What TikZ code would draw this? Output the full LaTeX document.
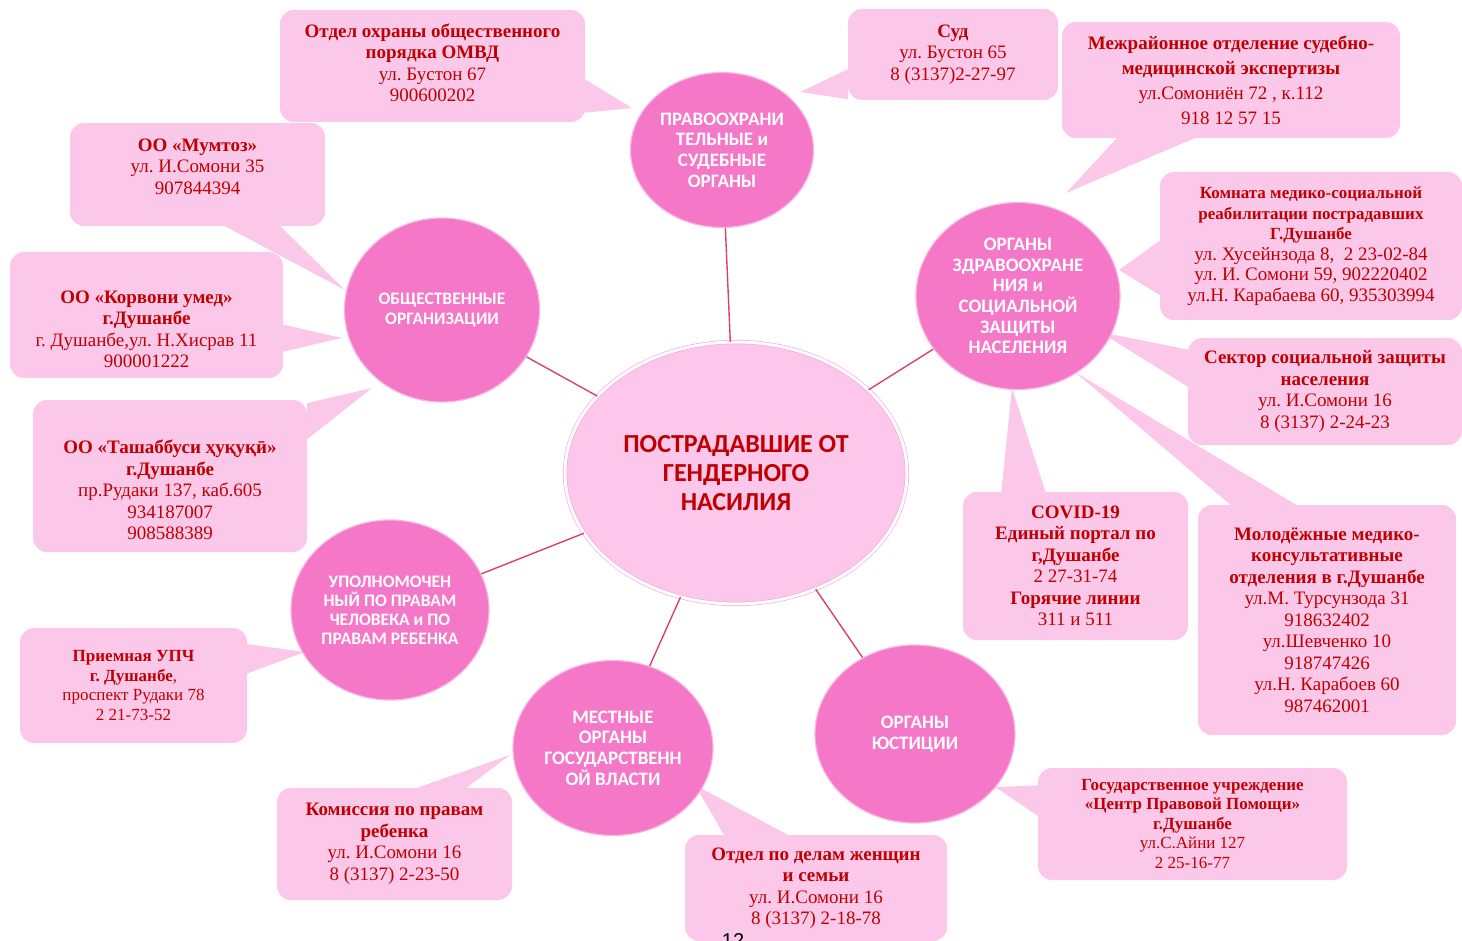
\documentclass[tikz,border=0pt]{standalone}
\usepackage{fontspec}
\setmainfont{Liberation Serif}
\newfontfamily\ballfont{Carlito}
\newfontfamily\pagefont{Liberation Sans}
\usepackage{tikz}
\usetikzlibrary{shapes.geometric, backgrounds}
\frenchspacing

\definecolor{boxpink}{HTML}{FCC8EA}
\definecolor{ballpink}{HTML}{F577C8}
\definecolor{ballrim}{HTML}{F9B6E2}
\definecolor{hubpink}{HTML}{FCC7EA}
\definecolor{hubrim}{HTML}{F2A6D6}
\definecolor{textred}{HTML}{C00000}
\definecolor{linkred}{HTML}{D9416F}

\tikzset{
    infotext/.style={text=textred, align=center, inner sep=2pt,
        font=\fontsize{19}{21.5}\selectfont},
    infobox/.style={infotext, fill=boxpink, rounded corners=14pt},
    smallbox/.style={infobox, font=\fontsize{17}{19.5}\selectfont},
    boxsize/.style 2 args={minimum width=#1pt, minimum height=#2pt},
    ball/.style={ellipse, fill=ballpink, draw=ballrim, line width=1.2pt, text=white,
        align=center, inner sep=0pt, font=\ballfont\bfseries\fontsize{19}{20.7}\selectfont},
    smallball/.style={ball, font=\ballfont\bfseries\fontsize{17.5}{19.3}\selectfont},
    hub/.style={ellipse, fill=hubpink, draw=hubrim, double=white, double distance=3pt,
        line width=0.6pt, text=textred, align=center, inner sep=0pt,
        font=\ballfont\bfseries\fontsize{26}{29}\selectfont},
    link/.style={draw=linkred, line width=1.4pt},
    tail/.style={fill=boxpink},
}
\newcommand\hd[1]{\textbf{#1}}
\newcommand\hds[1]{{\fontsize{17}{20.5}\selectfont\textbf{#1}}}

\begin{document}
\begin{tikzpicture}[x=1pt, y=-1pt]
    \clip (0,0) rectangle (1462,941);

    % centre and the six bodies
    \node[hub, boxsize={342}{262}] (victims) at (736,473)
        {ПОСТРАДАВШИЕ ОТ\\ГЕНДЕРНОГО\\НАСИЛИЯ};

    \node[ball, boxsize={183}{155}] (law) at (722,150)
        {ПРАВООХРАНИ\\ТЕЛЬНЫЕ и\\СУДЕБНЫЕ\\ОРГАНЫ};
    \node[ball, boxsize={204}{187}] (health) at (1018,296)
        {ОРГАНЫ\\ЗДРАВООХРАНЕ\\НИЯ и\\СОЦИАЛЬНОЙ\\ЗАЩИТЫ\\НАСЕЛЕНИЯ};
    \node[smallball, boxsize={195}{184}] (ngo) at (442,310)
        {ОБЩЕСТВЕННЫЕ\\ОРГАНИЗАЦИИ};
    \node[smallball, boxsize={198}{180}, font=\ballfont\bfseries\fontsize{17.5}{19}\selectfont] (ombuds) at (390,610)
        {УПОЛНОМОЧЕН\\НЫЙ ПО ПРАВАМ\\ЧЕЛОВЕКА и ПО\\ПРАВАМ РЕБЕНКА};
    \node[ball, boxsize={200}{175}] (local) at (613,748)
        {МЕСТНЫЕ\\ОРГАНЫ\\ГОСУДАРСТВЕНН\\ОЙ ВЛАСТИ};
    \node[ball, boxsize={200}{178}] (justice) at (915,734)
        {ОРГАНЫ\\ЮСТИЦИИ};

    % links from the centre
    \foreach \to in {law, health, ngo, ombuds, local, justice}
    {
        \draw[link] (victims) -- (\to);
    }

    % address boxes
    \node[infobox, boxsize={305}{112}] (ombd) at (432.5,66) {};
    \node[infotext] (ombd text) at (432.5,63)
        {\hd{Отдел охраны общественного}\\\hd{порядка ОМВД}\\ул. Бустон 67\\900600202};
    \node[infobox, boxsize={210}{91}] (sud) at (953,54.5)
        {\hd{Суд}\\ул. Бустон 65\\8 (3137)2-27-97};
    \node[infobox, boxsize={338}{116}, font=\fontsize{19}{25}\selectfont] (expert) at (1231,80)
        {\hd{Межрайонное отделение судебно-}\\\hd{медицинской экспертизы}\\ул.Сомониён 72 , к.112\\918 12 57 15};
    \node[infobox, boxsize={302}{148}, font=\fontsize{19}{20.5}\selectfont] (rehab) at (1311,246)
        {\hds{Комната медико-социальной}\\\hds{реабилитации пострадавших}\\\hds{Г.Душанбе}\\ул. Хусейнзода 8,\ \ 2 23-02-84\\ул. И. Сомони 59, 902220402\\ул.Н. Карабаева 60, 935303994};
    \node[infobox, boxsize={274}{107}] (social) at (1325,391.5)
        {\hd{Сектор социальной защиты}\\\hd{населения}\\ул. И.Сомони 16\\8 (3137) 2-24-23};
    \node[infobox, boxsize={225}{148}] (covid) at (1075.5,566)
        {\hd{COVID-19}\\\hd{Единый портал по}\\\hd{г,Душанбе}\\2 27-31-74\\\hd{Горячие линии}\\311 и 511};
    \node[infobox, boxsize={258}{230}] (youth) at (1327,620)
        {\hd{Молодёжные медико-}\\\hd{консультативные}\\\hd{отделения в г.Душанбе}\\ул.М. Турсунзода 31\\918632402\\ул.Шевченко 10\\918747426\\ул.Н. Карабоев 60\\987462001};
    \node[smallbox, boxsize={309}{112}] (legal) at (1192.5,824)
        {\hd{Государственное учреждение}\\\hd{«Центр Правовой Помощи»}\\\hd{г.Душанбе}\\ул.С.Айни 127\\2 25-16-77};
    \node[infobox, boxsize={262}{106}] (women) at (816,888)
        {\hd{Отдел по делам женщин}\\\hd{и семьи}\\ул. И.Сомони 16\\8 (3137) 2-18-78};
    \node[infobox, boxsize={235}{112}] (child) at (394.5,844)
        {\hd{Комиссия по правам}\\\hd{ребенка}\\ул. И.Сомони 16\\8 (3137) 2-23-50};
    \node[smallbox, boxsize={227}{115}] (upch) at (133.5,685.5)
        {\hd{Приемная УПЧ}\\\hd{г. Душанбе},\\проспект Рудаки 78\\2 21-73-52};

    % boxes whose text sits off centre
    \node[infobox, boxsize={274}{152}] (tashab) at (170,476) {};
    \node[infotext] (tashab text) at (170,490)
        {\hd{ОО «Ташаббуси ҳуқуқӣ»}\\\hd{г.Душанбе}\\пр.Рудаки 137, каб.605\\934187007\\908588389};
    \node[infobox, boxsize={273}{126}] (korvon) at (146.5,315) {};
    \node[infotext] (korvon text) at (146.5,329.5)
        {\hd{ОО «Корвони умед»}\\\hd{г.Душанбе}\\г. Душанбе,ул. Н.Хисрав 11\\900001222};
    \node[infobox, boxsize={255}{103}] (mumtoz) at (197.5,174.5) {};
    \node[infotext] (mumtoz text) at (197.5,166.5)
        {\hd{ОО «Мумтоз»}\\ул. И.Сомони 35\\907844394};

    % tips of the pointers
    \coordinate (ombd tip)   at (632,108);
    \coordinate (sud tip)    at (800,92);
    \coordinate (expert tip) at (1066,193);
    \coordinate (rehab tip)  at (1119,270);
    \coordinate (social tip) at (1100,332);
    \coordinate (covid tip)  at (1012,388);
    \coordinate (youth tip)  at (1075,372);
    \coordinate (legal tip)  at (995,787);
    \coordinate (women tip)  at (695,785);
    \coordinate (child tip)  at (510,755);
    \coordinate (upch tip)   at (305,652);
    \coordinate (tashab tip) at (372,388);
    \coordinate (korvon tip) at (342,338);
    \coordinate (mumtoz tip) at (345,290);

    % pointers, behind everything
    \begin{scope}[on background layer]
        \foreach \bx/\a/\b in {
            ombd/-5/-17, sud/188/203, expert/207/238, rehab/178/198,
            social/163/178, covid/112/135, youth/105/130, legal/166/177,
            women/118/150, child/38/68, upch/6/20, tashab/15/28,
            korvon/-4/-15, mumtoz/-62/-32}
        {
            \fill[tail] (\bx.\a) -- (\bx\space tip) -- (\bx.\b) -- cycle;
        }
    \end{scope}

    % page number
    \node[anchor=base, font=\pagefont\fontsize{20}{24}\selectfont] (pageno) at (733,947.5) {12};
\end{tikzpicture}
\end{document}
